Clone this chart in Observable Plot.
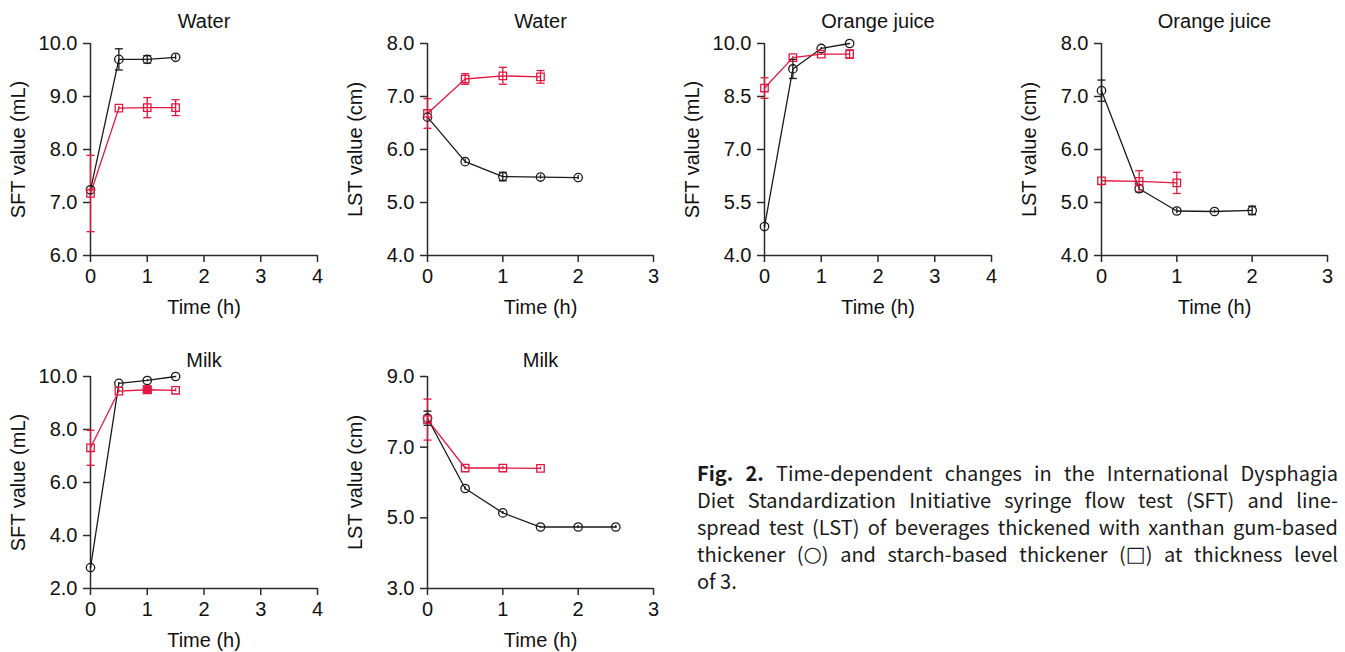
<!DOCTYPE html>
<html><head><meta charset="utf-8">
<script src="https://cdn.jsdelivr.net/npm/d3@7"></script>
<script src="https://cdn.jsdelivr.net/npm/@observablehq/plot@0.6"></script>
<style>
html,body{margin:0;padding:0;background:#fff;}
#root{position:relative;width:1345px;height:652px;overflow:hidden;background:#fff;}
.panel{position:absolute;}
#caption{position:absolute;left:697px;top:459px;width:641px;font-family:"Noto Sans CJK KR","Noto Sans",sans-serif;font-size:20px;line-height:27px;color:#1a1a1a;}
#caption div{text-align:justify;text-align-last:justify;white-space:nowrap;height:27px;}
#caption div.last{text-align-last:left;}
#caption .grp{display:inline-block;}
#caption .sym{font-family:"DejaVu Sans",sans-serif;font-size:21px;line-height:20px;vertical-align:1px;}
</style></head>
<body><div id="root"></div>
<script>
// ---- data ----
const times = [0, 0.5, 1, 1.5, 2, 2.5];
const titles = ["Water", "Water", "Orange juice", "Orange juice", "Milk", "Milk"];
const yLabels = ["SFT value (mL)", "LST value (cm)", "SFT value (mL)", "LST value (cm)", "SFT value (mL)", "LST value (cm)"];
const xLabel = "Time (h)";
const groups = ["xanthan", "starch"];

const waterSftXanthan = [7.24, 9.70, 9.70, 9.74];
const waterSftXanthanErr = [0.04, 0.20, 0.07, 0.05];
const waterSftStarch = [7.17, 8.78, 8.79, 8.79];
const waterSftStarchErr = [0.72, 0.03, 0.19, 0.15];

const waterLstXanthan = [6.61, 5.77, 5.49, 5.48, 5.47];
const waterLstXanthanErr = [0.05, 0.04, 0.08, 0.04, 0.04];
const waterLstStarch = [6.68, 7.33, 7.39, 7.37];
const waterLstStarchErr = [0.28, 0.10, 0.16, 0.12];

const ojSftXanthan = [4.82, 9.28, 9.86, 10.0];
const ojSftXanthanErr = [0.03, 0.27, 0.03, 0.0];
const ojSftStarch = [8.74, 9.60, 9.70, 9.70];
const ojSftStarchErr = [0.29, 0.03, 0.03, 0.12];

const ojLstXanthan = [7.11, 5.26, 4.84, 4.83, 4.85];
const ojLstXanthanErr = [0.20, 0.03, 0.05, 0.03, 0.08];
const ojLstStarch = [5.41, 5.40, 5.37];
const ojLstStarchErr = [0.0, 0.20, 0.20];

const milkSftXanthan = [2.79, 9.74, 9.85, 10.0];
const milkSftXanthanErr = [0.03, 0.03, 0.03, 0.0];
const milkSftStarch = [7.31, 9.45, 9.50, 9.48];
const milkSftStarchErr = [0.66, 0.05, 0.06, 0.06];

const milkLstXanthan = [7.82, 5.83, 5.14, 4.74, 4.74, 4.74];
const milkLstXanthanErr = [0.20, 0.05, 0.04, 0.02, 0.04, 0.04];
const milkLstStarch = [7.78, 6.41, 6.41, 6.40];
const milkLstStarchErr = [0.58, 0.05, 0.05, 0.04];

const xTicks4 = [0, 1, 2, 3, 4];
const xTicks3 = [0, 1, 2, 3];
const yTicksWaterSft = [6, 7, 8, 9, 10];
const yTicksLst48 = [4, 5, 6, 7, 8];
const yTicksOjSft = [4, 5.5, 7, 8.5, 10];
const yTicksMilkSft = [2, 4, 6, 8, 10];
const yTicksMilkLst = [3, 5, 7, 9];

const captionBold = "Fig. 2.";
const captionLines = [
  " Time-dependent changes in the International Dysphagia",
  "Diet Standardization Initiative syringe flow test (SFT) and line-",
  "spread test (LST) of beverages thickened with xanthan gum-based",
  "thickener (\u25CB) and starch-based thickener (\u25A1) at thickness level",
  "of 3."
];

// ---- panels ----
const panels = [
  {xan: waterSftXanthan, xanErr: waterSftXanthanErr, sta: waterSftStarch, staErr: waterSftStarchErr, xTicks: xTicks4, yTicks: yTicksWaterSft},
  {xan: waterLstXanthan, xanErr: waterLstXanthanErr, sta: waterLstStarch, staErr: waterLstStarchErr, xTicks: xTicks3, yTicks: yTicksLst48},
  {xan: ojSftXanthan, xanErr: ojSftXanthanErr, sta: ojSftStarch, staErr: ojSftStarchErr, xTicks: xTicks4, yTicks: yTicksOjSft},
  {xan: ojLstXanthan, xanErr: ojLstXanthanErr, sta: ojLstStarch, staErr: ojLstStarchErr, xTicks: xTicks3, yTicks: yTicksLst48},
  {xan: milkSftXanthan, xanErr: milkSftXanthanErr, sta: milkSftStarch, staErr: milkSftStarchErr, xTicks: xTicks4, yTicks: yTicksMilkSft, filledStarchAt: [1]},
  {xan: milkLstXanthan, xanErr: milkLstXanthanErr, sta: milkLstStarch, staErr: milkLstStarchErr, xTicks: xTicks3, yTicks: yTicksMilkLst}
];

// layout (pixels)
const layout = [
  {left: 0,    top: 0,   width: 330, height: 330, ml: 90, mr: 13, mt: 43, mb: 75, titleDy: -22},
  {left: 340,  top: 0,   width: 330, height: 330, ml: 87, mr: 17, mt: 43, mb: 75, titleDy: -22},
  {left: 680,  top: 0,   width: 330, height: 330, ml: 84, mr: 19, mt: 43, mb: 75, titleDy: -22},
  {left: 1010, top: 0,   width: 335, height: 330, ml: 91, mr: 18, mt: 43, mb: 75, titleDy: -22},
  {left: 0,    top: 340, width: 330, height: 312, ml: 90, mr: 13, mt: 36, mb: 64, titleDy: -16},
  {left: 340,  top: 340, width: 330, height: 312, ml: 87, mr: 17, mt: 36, mb: 64, titleDy: -16}
];

const FONT = "'Liberation Sans', Arial, sans-serif";
const FS = 20;
const AXIS = "#2a2a2a";
const BLACK = "#1a1a1a";
const RED = "#e3173e";

const capSymbol = {
  draw(context, size) {
    const r = Math.sqrt(size / Math.PI);
    context.moveTo(-r, 0);
    context.lineTo(r, 0);
  }
};

const root = document.getElementById("root");

panels.forEach((p, i) => {
  const L = layout[i];
  const rows = [];
  p.xan.forEach((v, k) => rows.push({t: times[k], v, e: p.xanErr[k], g: "xanthan"}));
  p.sta.forEach((v, k) => rows.push({t: times[k], v, e: p.staErr[k], g: "starch"}));
  const xDomain = [p.xTicks[0], p.xTicks[p.xTicks.length - 1]];
  const yDomain = [p.yTicks[0], p.yTicks[p.yTicks.length - 1]];
  const filled = rows.filter(d => d.g === "starch" && (p.filledStarchAt || []).includes(d.t));

  const chart = Plot.plot({
    width: L.width, height: L.height,
    marginLeft: L.ml, marginRight: L.mr, marginTop: L.mt, marginBottom: L.mb,
    style: {fontFamily: FONT, fontSize: FS + "px", color: AXIS, background: "transparent", overflow: "visible"},
    x: {domain: xDomain},
    y: {domain: yDomain},
    color: {domain: groups, range: [BLACK, RED]},
    symbol: {domain: groups, range: ["circle", "square"]},
    marks: [
      Plot.axisY({ticks: p.yTicks, tickFormat: d3.format(".1f"), tickSize: 7, tickPadding: 6, strokeWidth: 1.5, fontSize: FS, fill: "#111",
        label: yLabels[i], labelAnchor: "center", labelArrow: "none", labelOffset: 80}),
      Plot.axisX({ticks: p.xTicks, tickFormat: d3.format("d"), tickSize: 7, tickPadding: 6, strokeWidth: 1.5, fontSize: FS, fill: "#111",
        label: xLabel, labelAnchor: "center", labelArrow: "none", labelOffset: 58}),
      Plot.ruleX([xDomain[0]], {stroke: AXIS, strokeWidth: 1.5}),
      Plot.ruleY([yDomain[0]], {stroke: AXIS, strokeWidth: 1.5}),
      Plot.line(rows, {x: "t", y: "v", z: "g", stroke: "g", strokeWidth: 1.3}),
      Plot.ruleX(rows, {x: "t", y1: d => d.v - d.e, y2: d => d.v + d.e, stroke: "g", strokeWidth: 1.3}),
      Plot.dot(rows.filter(d => d.e > 0.06), {x: "t", y: d => d.v - d.e, symbol: capSymbol, r: 4, stroke: "g", strokeWidth: 1.3}),
      Plot.dot(rows.filter(d => d.e > 0.06), {x: "t", y: d => d.v + d.e, symbol: capSymbol, r: 4, stroke: "g", strokeWidth: 1.3}),
      Plot.dot(rows, {x: "t", y: "v", symbol: "g", stroke: "g", fill: "none", r: 4.2, strokeWidth: 1.3}),
      Plot.dot(filled, {x: "t", y: "v", symbol: "g", fill: "g", stroke: "g", r: 4.2}),
      Plot.text([titles[i]], {text: d => d, frameAnchor: "top", dy: L.titleDy, lineAnchor: "middle", fontSize: FS, fill: "#111"})
    ]
  });
  chart.classList.add("panel");
  chart.style.left = L.left + "px";
  chart.style.top = L.top + "px";
  chart.style.position = "absolute";
  root.appendChild(chart);
});

// caption
const cap = document.createElement("div");
cap.id = "caption";
captionLines.forEach((line, k) => {
  const div = document.createElement("div");
  if (k === captionLines.length - 1) div.className = "last";
  if (k === 0) {
    const b = document.createElement("b");
    b.textContent = captionBold;
    div.appendChild(b);
  }
  // keep "(symbol)" groups atomic so justification does not space them out
  line.split(/(\([\u25CB\u25A1]\))/).forEach(part => {
    const m = part.match(/^\(([\u25CB\u25A1])\)$/);
    if (m) {
      const g = document.createElement("span");
      g.className = "grp";
      g.appendChild(document.createTextNode("("));
      const s = document.createElement("span");
      s.className = "sym";
      s.textContent = m[1];
      g.appendChild(s);
      g.appendChild(document.createTextNode(")"));
      div.appendChild(g);
    } else if (part) {
      div.appendChild(document.createTextNode(part));
    }
  });
  cap.appendChild(div);
});
root.appendChild(cap);
</script>
</body></html>
